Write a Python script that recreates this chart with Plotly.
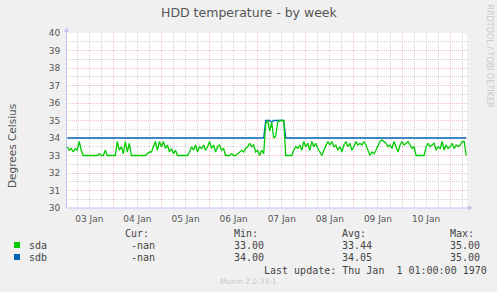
import pandas as pd
import plotly.graph_objects as go

# ---------------- data ----------------
START = "2020-01-03 00:00"
HOURS = list(range(1, 201))  # sample hours after START

sda = [
    33.5, 33.3, 33.4, 33.2, 33.4, 33.3, 33.8, 33.3, 33.0, 33.0,
    33.0, 33.0, 33.0, 33.0, 33.0, 33.0, 33.1, 33.0, 33.0, 33.3,
    33.0, 33.0, 33.0, 33.0, 33.0, 33.8, 33.3, 33.5, 33.1, 33.8,
    33.2, 33.7, 33.0, 33.0, 33.0, 33.0, 33.0, 33.0, 33.0, 33.0,
    33.1, 33.2, 33.2, 33.5, 33.8, 33.3, 33.8, 33.5, 33.8, 33.4,
    33.6, 33.2, 33.4, 33.1, 33.3, 33.0, 33.0, 33.0, 33.0, 33.0,
    33.0, 33.2, 33.5, 33.3, 33.6, 33.2, 33.5, 33.4, 33.6, 33.3,
    33.5, 33.8, 33.4, 33.6, 33.2, 33.5, 33.6, 33.3, 33.4, 33.0,
    33.0, 33.0, 33.1, 33.0, 33.0, 33.1, 33.2, 33.3, 33.2, 33.4,
    33.5, 33.7, 33.5, 33.6, 33.2, 33.3, 33.0, 33.3, 33.1, 34.8,
    35.0, 34.4, 34.9, 34.0, 34.1, 34.9, 35.0, 35.0, 35.0, 33.0,
    33.0, 33.0, 33.0, 33.3, 33.5, 33.4, 33.6, 33.3, 33.8, 33.5,
    33.7, 33.3, 33.8, 33.5, 33.7, 33.4, 33.2, 33.0, 33.3, 33.6,
    33.8, 33.6, 33.8, 33.5, 33.6, 33.3, 33.5, 33.2, 33.6, 33.8,
    33.5, 33.7, 33.3, 33.5, 33.8, 33.6, 33.7, 33.6, 33.8, 33.6,
    33.3, 33.0, 33.2, 33.1, 33.3, 33.6, 33.8, 33.9, 33.8, 33.7,
    33.5, 33.6, 33.4, 33.8, 33.5, 33.2, 33.6, 33.8, 33.6, 33.7,
    33.8, 33.6, 33.4, 33.5, 33.0, 33.0, 33.0, 33.0, 33.0, 33.5,
    33.7, 33.5, 33.6, 33.7, 33.3, 33.5, 33.4, 33.8, 33.3, 33.6,
    33.4, 33.5, 33.7, 33.4, 33.6, 33.5, 33.6, 33.8, 33.8, 33.0,
]

sdb = [34.0] * 99 + [35.0, 35.0, 35.0, 34.9, 35.0, 35.0, 35.0, 35.0, 35.0, 35.0] + [34.0] * 91

SERIES = ["sda", "sdb"]
COLORS = ["#00CC00", "#0066B3"]
CUR = ["-nan", "-nan"]
MIN = ["33.00", "34.00"]
AVG = ["33.44", "34.05"]
MAX = ["35.00", "35.00"]

TITLE = "HDD temperature - by week"
YTITLE = "Degrees Celsius"
LAST_UPDATE = "Last update: Thu Jan  1 01:00:00 1970"

# ---------------- layout geometry ----------------
W, H = 497, 292
L, R, T, B = 66, 30, 33, 84
PW, PH = W - L - R, H - T - B

def px(x):
    return (x - L) / PW

def py(y):
    return (H - B - y) / PH

start = pd.Timestamp(START)
times = [start + pd.Timedelta(hours=h) for h in HOURS]
x0 = start + pd.Timedelta(hours=0.4)
x1 = start + pd.Timedelta(hours=200.4)

fig = go.Figure()
fig.add_trace(go.Scatter(x=times, y=sdb, mode="lines",
                         line=dict(color=COLORS[1], width=1.3), showlegend=False))
fig.add_trace(go.Scatter(x=times, y=sda, mode="lines",
                         line=dict(color=COLORS[0], width=1.3), showlegend=False))

MONO = "DejaVu Sans Mono"
SANS = "DejaVu Sans"
TXT = "#555555"
MAJ = "rgba(235,140,140,0.55)"
MIN_C = "rgba(180,180,180,0.6)"

fig.update_layout(
    width=W, height=H,
    margin=dict(l=L, r=R, t=T, b=B, pad=0),
    paper_bgcolor="#F0F0F0",
    plot_bgcolor="#FFFFFF",
    xaxis=dict(
        type="date", range=[x0, x1],
        tick0=START, dtick=86400000, ticklabelmode="period",
        tickformat="%d %b",
        showgrid=True, gridcolor=MAJ, griddash="1px,1px", gridwidth=1,
        minor=dict(dtick=6 * 3600 * 1000, showgrid=True,
                   gridcolor=MIN_C, griddash="1px,1px", gridwidth=1),
        ticks="outside", ticklen=2, tickcolor="rgba(0,0,0,0)",
        tickfont=dict(family=SANS, size=9, color=TXT),
        showline=False, zeroline=False, fixedrange=True,
    ),
    yaxis=dict(
        range=[30, 40], dtick=1, tick0=30,
        showgrid=True, gridcolor=MAJ, griddash="1px,1px", gridwidth=1,
        minor=dict(dtick=0.5, showgrid=True,
                   gridcolor=MIN_C, griddash="1px,1px", gridwidth=1),
        ticks="outside", ticklen=3, tickcolor="rgba(0,0,0,0)",
        tickfont=dict(family=SANS, size=9, color=TXT),
        showline=False, zeroline=False, fixedrange=True,
    ),
)

AX = "#C4C4F4"
# axis lines with arrows
fig.add_shape(type="line", xref="paper", yref="paper",
              x0=px(66.5), x1=px(469), y0=py(208), y1=py(208), line=dict(color=AX, width=1))
fig.add_shape(type="line", xref="paper", yref="paper",
              x0=px(66.5), x1=px(66.5), y0=py(208), y1=py(30), line=dict(color=AX, width=1))
fig.add_shape(type="path", xref="paper", yref="paper",
              path=f"M {px(468)} {py(205.5)} L {px(473)} {py(208)} L {px(468)} {py(210.5)} Z",
              fillcolor=AX, line=dict(color=AX, width=0))
fig.add_shape(type="path", xref="paper", yref="paper",
              path=f"M {px(64)} {py(32)} L {px(66.5)} {py(27)} L {px(69)} {py(32)} Z",
              fillcolor=AX, line=dict(color=AX, width=0))

def note(text, x, y, size=10, family=MONO, color="#444444", xanchor="left", angle=0):
    fig.add_annotation(text=text, x=px(x), y=py(y), xref="paper", yref="paper",
                       showarrow=False, xanchor=xanchor, yanchor="middle", textangle=angle,
                       font=dict(family=family, size=size, color=color))

note(TITLE, 249, 13, size=12.5, family=SANS, color=TXT, xanchor="center")
note(YTITLE, 12, 146, size=10.5, family=SANS, color=TXT, xanchor="center", angle=-90)
note("RRDTOOL / TOBI OETIKER", 489, 56.5, size=8, family=SANS, color="#C8C8C8",
     xanchor="center", angle=90)

# legend
note("Cur:", 123, 233.5)
note("Min:", 232, 233.5)
note("Avg:", 340, 233.5)
note("Max:", 448, 233.5)
rows_y = [245, 257]
for i, name in enumerate(SERIES):
    yy = rows_y[i]
    fig.add_shape(type="rect", xref="paper", yref="paper",
                  x0=px(14), x1=px(20), y0=py(yy - 3), y1=py(yy + 3),
                  fillcolor=COLORS[i], line=dict(width=0))
    note(name, 27, yy)
    note(CUR[i], 129, yy)
    note(MIN[i], 232, yy)
    note(AVG[i], 340, yy)
    note(MAX[i], 448, yy)
note(LAST_UPDATE, 262, 270)
note("Munin 2.0.33-1", 248, 281.5, size=7.5, family=SANS, color="#C8C8C8", xanchor="center")

fig.write_html("out.html")
